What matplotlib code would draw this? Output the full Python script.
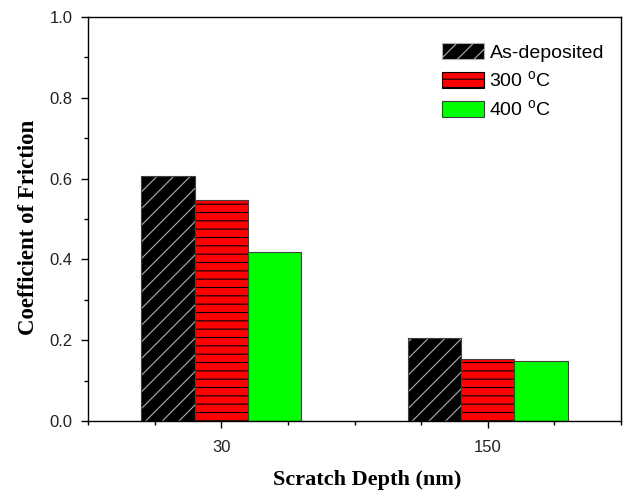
import numpy as np
import matplotlib
matplotlib.use("Agg")
import matplotlib.pyplot as plt
from matplotlib.patches import Patch

# friction coefficient
depths = ["30", "150"]
series = ["As-deposited", "300 $^{\\mathrm{o}}$C", "400 $^{\\mathrm{o}}$C"]
as_dep = [0.606, 0.205]
t300 = [0.547, 0.153]
t400 = [0.418, 0.149]

plt.rcParams['font.family'] = ['Liberation Sans', 'DejaVu Sans']
plt.rcParams['mathtext.fontset'] = 'custom'
plt.rcParams['mathtext.rm'] = 'Liberation Sans'
plt.rcParams['hatch.linewidth'] = 0.8

fig = plt.figure(figsize=(6.28, 4.91), dpi=100)
ax = fig.add_axes([0.1401, 0.1426, 0.8488, 0.8228])

centers = np.array([2, 6])
w = 0.8
faces = ["black", "#ff0000", "#00ff00"]
hatch_cols = ["#b0b0b0", "black", "#00ff00"]
hatches = ["//", "--", ""]
outline = "#404040"

for i, vals in enumerate([as_dep, t300, t400]):
    x = centers + (i - 1) * w
    ax.bar(x, vals, w, color=faces[i], edgecolor=hatch_cols[i], hatch=hatches[i], linewidth=0)
    ax.bar(x, vals, w, fill=False, edgecolor=outline, linewidth=0.8)

ax.set_xlim(0, 8)
ax.set_ylim(0, 1.0)
ax.set_xticks(centers)
ax.set_xticklabels(depths)
ax.set_xticks([0, 1, 3, 4, 5, 7, 8], minor=True)
ax.set_yticks(np.arange(0, 1.01, 0.2))
ax.set_yticks(np.arange(0.1, 1.0, 0.2), minor=True)
ax.yaxis.set_major_formatter(plt.FuncFormatter(lambda v, p: f"{v:.1f}"))
ax.tick_params(which='major', direction='out', length=5, width=1, labelsize=12, pad=6,
               labelcolor='#222222')
ax.tick_params(axis='x', which='major', pad=9)
ax.tick_params(which='minor', direction='out', length=3, width=1)
for s in ax.spines.values():
    s.set_linewidth(1)

ax.set_xlabel("Scratch Depth (nm)", family='Liberation Serif', fontweight='bold', fontsize=16)
ax.set_ylabel("Coefficient of Friction", family='Liberation Serif', fontweight='bold', fontsize=16.5)
ax.xaxis.set_label_coords(0.523, -0.122)
ax.yaxis.set_label_coords(-0.092, 0.478)

handles = [Patch(facecolor=faces[i], edgecolor=hatch_cols[i] if hatches[i] else outline,
                 hatch=hatches[i], linewidth=0.8) for i in range(3)]
leg = ax.legend(handles, series, loc='upper right', frameon=False, fontsize=14,
                handlelength=2.15, handleheight=0.88, handletextpad=0.3, labelspacing=0.42,
                borderpad=0, borderaxespad=0, bbox_to_anchor=(0.968, 0.935))

fig.savefig("out.png", dpi=100)
